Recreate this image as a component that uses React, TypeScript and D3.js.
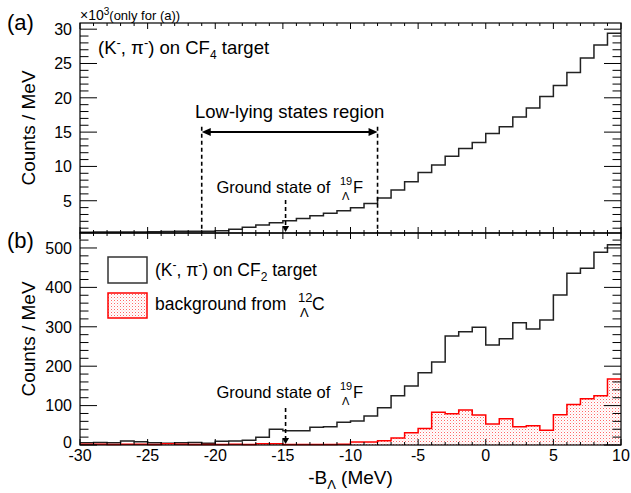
import * as d3 from "d3";

// bins are 1 MeV wide, starting at -30 MeV
const binStart = -30;
const binEnd = 10;

// (a) (K-, pi-) on CF4, counts / MeV in units of 10^3
const cf4Counts = [
  0.42, 0.43, 0.44, 0.44, 0.45, 0.5, 0.52, 0.54, 0.55, 0.57,
  0.62, 0.83, 1.12, 1.46, 1.8, 2.09, 2.43, 2.82, 3.16, 3.54,
  3.98, 4.6, 5.4, 6.56, 7.77, 9.13, 10.2, 11.5, 12.6, 13.5,
  14.8, 15.8, 17.2, 18.5, 20.2, 21.8, 23.7, 25.8, 27.7, 29.4,
];

// (b) (K-, pi-) on CF2, counts / MeV
const cf2Counts = [
  6, 6.6, 6, 10, 8.5, 6, 4.2, 6, 6.6, 4.2,
  9.3, 10, 11.8, 19.5, 39.8, 36.4, 36.4, 45, 46.5, 58,
  61, 73.6, 94.8, 125, 150, 183.6, 210.7, 276.6, 287.6, 298.6,
  253.8, 269.9, 310.4, 294.4, 317, 380.7, 435.7, 448.4, 489, 508,
];

// (b) background from 12C (Lambda), counts / MeV
const c12Background = [
  2, 2, 1, 2, 2, 1, 3, 2, 1, 1,
  1, 2, 1, 3, 3, 1, 1, 1, 1, 2,
  7.6, 7.6, 11, 17.8, 31, 42, 83, 79.5, 88.8, 76,
  53.3, 66.8, 46.5, 49, 37.2, 77, 103, 117.6, 125, 167.5,
];

const xMajorTicks = [-30, -25, -20, -15, -10, -5, 0, 5, 10];
const topMajorTicks = [5, 10, 15, 20, 25, 30];
const bottomMajorTicks = [0, 100, 200, 300, 400, 500];

// annotation positions (MeV)
const groundState = -14.8;
const lowLyingRange = [-21, -8];

const font = "'Liberation Sans', Arial, Helvetica, sans-serif";

const left = 80;
const right = 621;
const topY0 = 23;
const midY = 233;
const botY1 = 445;

function stepPoints(values: number[]) {
  const pts: [number, number][] = values.map((v, i) => [binStart + i, v]);
  pts.push([binEnd, values[values.length - 1]]);
  return pts;
}

export default function App() {
  const x = d3.scaleLinear().domain([binStart, binEnd]).range([left, right]);
  const yTop = d3.scaleLinear().domain([0.3, 30.9]).range([midY, topY0]);
  const yBot = d3.scaleLinear().domain([0, 538]).range([botY1, midY]);

  const topLine = d3
    .line<[number, number]>()
    .x((d) => x(d[0]))
    .y((d) => yTop(d[1]))
    .curve(d3.curveStepAfter);
  const botLine = d3
    .line<[number, number]>()
    .x((d) => x(d[0]))
    .y((d) => yBot(d[1]))
    .curve(d3.curveStepAfter);
  const botArea = d3
    .area<[number, number]>()
    .x((d) => x(d[0]))
    .y0(yBot(0))
    .y1((d) => yBot(d[1]))
    .curve(d3.curveStepAfter);

  const xMinor = d3.range(binStart, binEnd + 1).filter((v) => v % 5 !== 0);
  const topMinor = d3.range(1, 31).filter((v) => v % 5 !== 0);
  const botMinor = d3.range(20, 540, 20).filter((v) => v % 100 !== 0);

  // ticks along x for one panel (bottom edge goes up, top edge goes down)
  const xTicks = (yb: number, yt: number) => (
    <g stroke="#000" strokeWidth={1}>
      {xMajorTicks.map((t) => (
        <g key={"M" + t}>
          <line x1={x(t)} x2={x(t)} y1={yb} y2={yb - 6} />
          <line x1={x(t)} x2={x(t)} y1={yt} y2={yt + 6} />
        </g>
      ))}
      {xMinor.map((t) => (
        <g key={"m" + t}>
          <line x1={x(t)} x2={x(t)} y1={yb} y2={yb - 3} />
          <line x1={x(t)} x2={x(t)} y1={yt} y2={yt + 3} />
        </g>
      ))}
    </g>
  );

  const yTicks = (scale: d3.ScaleLinear<number, number>, major: number[], minor: number[]) => (
    <g stroke="#000" strokeWidth={1}>
      {major.map((t) => (
        <g key={"M" + t}>
          <line x1={left} x2={left + 17} y1={scale(t)} y2={scale(t)} />
          <line x1={right} x2={right - 17} y1={scale(t)} y2={scale(t)} />
        </g>
      ))}
      {minor.map((t) => (
        <g key={"m" + t}>
          <line x1={left} x2={left + 8.5} y1={scale(t)} y2={scale(t)} />
          <line x1={right} x2={right - 8.5} y1={scale(t)} y2={scale(t)} />
        </g>
      ))}
    </g>
  );

  const groundLabel = (base: number) => (
    <g fontFamily={font} fill="#000">
      <text x={216.5} y={base} fontSize={16.5}>Ground state of</text>
      <text x={340} y={base - 8} fontSize={11}>19</text>
      <text x={342} y={base + 7} fontSize={11}>Λ</text>
      <text x={353} y={base} fontSize={16.5}>F</text>
    </g>
  );

  const arrowDown = (xp: number, y1: number, y2: number) => (
    <g>
      <line x1={xp} x2={xp} y1={y1} y2={y2 - 4} stroke="#000" strokeWidth={1.6} strokeDasharray="4,3" />
      <path d={`M${xp - 3.5},${y2 - 6} L${xp + 3.5},${y2 - 6} L${xp},${y2} Z`} fill="#000" />
    </g>
  );

  const gx = x(groundState);
  const lx0 = x(lowLyingRange[0]);
  const lx1 = x(lowLyingRange[1]);
  const arrowY = yTop(15);

  return (
    <svg width={631} height={493} style={{ position: "absolute", left: 0, top: 0 }}>
      <defs>
        <pattern id="dots" width={3} height={3} patternUnits="userSpaceOnUse">
          <rect width={3} height={3} fill="#fff" />
          <rect width={1} height={1} fill="#f66" />
          <rect x={1.5} y={1.5} width={1} height={1} fill="#fbb" />
        </pattern>
      </defs>
      <rect width={631} height={493} fill="#fff" />

      {/* panel (a) */}
      <path d={topLine(stepPoints(cf4Counts)) ?? ""} fill="none" stroke="#222" strokeWidth={1.5} />
      {xTicks(midY, topY0)}
      {yTicks(yTop, topMajorTicks, topMinor)}
      <rect x={left} y={topY0} width={right - left} height={midY - topY0} fill="none" stroke="#000" strokeWidth={1.2} />
      <g fontFamily={font} fontSize={16} textAnchor="end" fill="#000">
        {topMajorTicks.map((t) => (
          <text key={t} x={72} y={yTop(t)} dy="0.36em">{t}</text>
        ))}
      </g>
      <text fontFamily={font} x={80} y={20} fontSize={14}>
        ×10<tspan dy={-5} fontSize={10}>3</tspan><tspan dy={5} fontSize={13}>(only for (a))</tspan>
      </text>
      <text fontFamily={font} x={98} y={54} fontSize={18.5}>
        (K<tspan dy={-7} fontSize={13}>-</tspan><tspan dy={7}>, π</tspan><tspan dy={-7} fontSize={13}>-</tspan><tspan dy={7}>) on CF</tspan><tspan dy={5} fontSize={12}>4</tspan><tspan dy={-5}> target</tspan>
      </text>
      <text fontFamily={font} x={(lx0 + lx1) / 2} y={118} fontSize={18.5} textAnchor="middle">Low-lying states region</text>
      <g>
        <line x1={lx0} x2={lx0} y1={yTop(15.8)} y2={midY} stroke="#000" strokeWidth={1.6} strokeDasharray="4,3" />
        <line x1={lx1} x2={lx1} y1={yTop(15.8)} y2={midY} stroke="#000" strokeWidth={1.6} strokeDasharray="4,3" />
        <line x1={lx0 + 6} x2={lx1 - 6} y1={arrowY} y2={arrowY} stroke="#000" strokeWidth={2} />
        <path d={`M${lx0},${arrowY} L${lx0 + 9},${arrowY - 4} L${lx0 + 9},${arrowY + 4} Z`} fill="#000" />
        <path d={`M${lx1},${arrowY} L${lx1 - 9},${arrowY - 4} L${lx1 - 9},${arrowY + 4} Z`} fill="#000" />
      </g>
      {groundLabel(193)}
      {arrowDown(gx, 200, midY - 1)}

      {/* panel (b) */}
      <path d={botLine(stepPoints(cf2Counts)) ?? ""} fill="none" stroke="#222" strokeWidth={1.5} />
      <path d={botArea(stepPoints(c12Background)) ?? ""} fill="url(#dots)" stroke="none" />
      <path d={botLine(stepPoints(c12Background)) ?? ""} fill="none" stroke="#f00" strokeWidth={1.5} />
      {xTicks(botY1, midY)}
      {yTicks(yBot, bottomMajorTicks, botMinor)}
      <rect x={left} y={midY} width={right - left} height={botY1 - midY} fill="none" stroke="#000" strokeWidth={1.2} />
      <g fontFamily={font} fontSize={16} textAnchor="end" fill="#000">
        {bottomMajorTicks.map((t) => (
          <text key={t} x={72} y={yBot(t)} dy={t === 0 ? "0.2em" : "0.36em"}>{t}</text>
        ))}
      </g>
      <g fontFamily={font} fontSize={16} textAnchor="middle" fill="#000">
        {xMajorTicks.map((t) => (
          <text key={t} x={x(t)} y={461}>{t}</text>
        ))}
      </g>
      <text fontFamily={font} x={(left + right) / 2} y={484} fontSize={19} textAnchor="middle">
        -B<tspan dy={5} fontSize={13}>Λ</tspan><tspan dy={-5}> (MeV)</tspan>
      </text>

      {/* legend */}
      <rect x={108} y={257} width={39} height={26} fill="#fff" stroke="#333" strokeWidth={1.5} />
      <rect x={108} y={293} width={39} height={25} fill="url(#dots)" stroke="#f00" strokeWidth={1.5} />
      <text fontFamily={font} x={155} y={276} fontSize={17.5}>
        (K<tspan dy={-7} fontSize={12}>-</tspan><tspan dy={7}>, π</tspan><tspan dy={-7} fontSize={12}>-</tspan><tspan dy={7}>) on CF</tspan><tspan dy={5} fontSize={12}>2</tspan><tspan dy={-5}> target</tspan>
      </text>
      <g fontFamily={font} fill="#000">
        <text x={155} y={310} fontSize={17.5}>background from</text>
        <text x={298} y={302} fontSize={13}>12</text>
        <text x={300} y={317} fontSize={13}>Λ</text>
        <text x={312} y={310} fontSize={17.5}>C</text>
      </g>
      {groundLabel(398)}
      {arrowDown(gx, 408, botY1 - 1)}

      {/* panel labels and y titles */}
      <text fontFamily={font} x={7} y={30} fontSize={22}>(a)</text>
      <text fontFamily={font} x={7} y={248} fontSize={22}>(b)</text>
      <text fontFamily={font} fontSize={19} textAnchor="middle" transform={`translate(35,${(topY0 + midY) / 2}) rotate(-90)`}>Counts / MeV</text>
      <text fontFamily={font} fontSize={19} textAnchor="middle" transform={`translate(35,${(midY + botY1) / 2}) rotate(-90)`}>Counts / MeV</text>
    </svg>
  );
}
